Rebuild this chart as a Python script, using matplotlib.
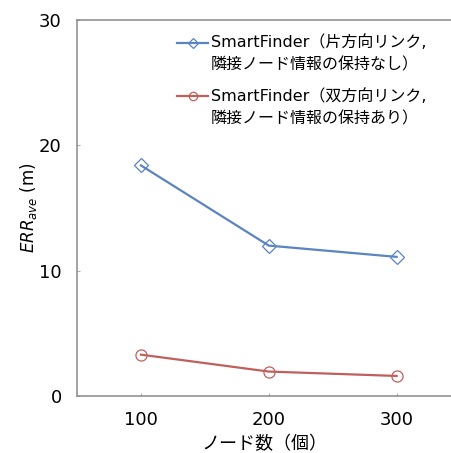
import numpy as np
import matplotlib
matplotlib.use("Agg")
import matplotlib.pyplot as plt
from matplotlib.legend_handler import HandlerLine2D

plt.rcParams['font.family'] = ['DejaVu Sans', 'Noto Sans CJK JP']
plt.rcParams['mathtext.fontset'] = 'dejavusans'

# Data
nodes = [100, 200, 300]
err_one_way = [18.4, 12.0, 11.1]
err_two_way = [3.3, 1.95, 1.6]
labels = [
    "SmartFinder（片方向リンク,\n隣接ノード情報の保持なし）",
    "SmartFinder（双方向リンク,\n隣接ノード情報の保持あり）",
]
y_ticks = [0, 10, 20, 30]

BLUE = "#5a84c2"
RED = "#c0605c"
AXIS_GRAY = "#8a8a8a"


class FirstLineHandler(HandlerLine2D):
    """Place the legend handle next to the first line of a two-line label."""
    shift = 8.0

    def create_artists(self, legend, orig_handle, xdescent, ydescent,
                       width, height, fontsize, trans):
        artists = super().create_artists(legend, orig_handle, xdescent, ydescent,
                                         width, height, fontsize, trans)
        for a in artists:
            a.set_ydata(np.asarray(a.get_ydata(), dtype=float) + self.shift)
        return artists


fig = plt.figure(figsize=(4.52, 4.53), dpi=100)
ax = fig.add_axes([77 / 452, 1 - 396 / 453, (460.5 - 77) / 452, (396 - 20) / 453])

l1, = ax.plot(nodes, err_one_way, color=BLUE, lw=1.6, marker='D', ms=7,
              mfc='none', mec=BLUE, mew=0.9, label=labels[0])
l2, = ax.plot(nodes, err_two_way, color=RED, lw=1.6, marker='o', ms=8,
              mfc='none', mec=RED, mew=0.9, label=labels[1])

ax.set_xlim(50, 350)
ax.set_ylim(0, 30)
ax.set_xticks(nodes)
ax.set_yticks(y_ticks)

for side in ['left', 'bottom', 'top']:
    ax.spines[side].set_color(AXIS_GRAY)
    ax.spines[side].set_linewidth(1.1)
ax.spines['right'].set_visible(False)

ax.tick_params(axis='both', direction='in', length=2.5, width=0.8,
               color="#b0b0b0", labelsize=13)
ax.tick_params(axis='y', pad=11)
ax.tick_params(axis='x', pad=11)

ax.set_xlabel("ノード数（個）", fontsize=13)
ax.xaxis.set_label_coords(0.49, -0.104)
ax.set_ylabel(r"$ERR_{ave}$ (m)", fontsize=12)
ax.yaxis.set_label_coords(-0.099, 0.5)

leg = ax.legend(handles=[l1, l2], loc='upper left',
                bbox_to_anchor=(0.261, 0.962), frameon=False, fontsize=11.5,
                handlelength=1.95, handletextpad=0.15, borderpad=0,
                borderaxespad=0, labelspacing=0.95, markerscale=0.75,
                handler_map={matplotlib.lines.Line2D: FirstLineHandler()})
for t in leg.get_texts():
    t.set_linespacing(1.6)

fig.savefig("out.png", dpi=100)
